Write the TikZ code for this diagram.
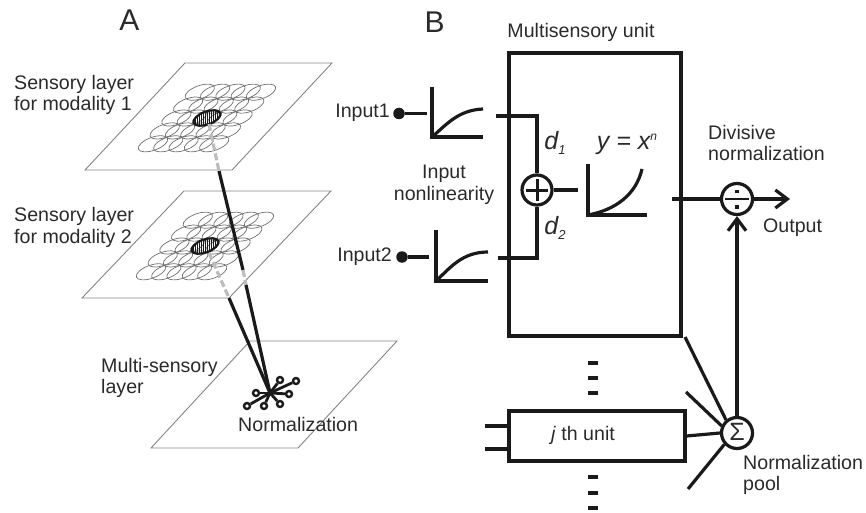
\documentclass[tikz,border=0pt]{standalone}
\usepackage{fontspec}
\setmainfont{Liberation Sans}
\usetikzlibrary{arrows.meta}
\definecolor{ink}{HTML}{1A1A1A}
\definecolor{txt}{HTML}{2A2A2A}
\definecolor{fine}{HTML}{6E6E6E}
\definecolor{pale}{HTML}{BDBDBD}
\tikzset{
  x=1pt,y=-1pt,
  lab/.style={inner sep=0pt,text=txt,font=\fontsize{19.6}{21.8}\selectfont,align=left},
  panel/.style={inner sep=0pt,text=txt,font=\fontsize{30}{32}\selectfont},
  plane/.style={draw=fine!85,line width=0.9pt},
  rf/.style={draw=fine,line width=0.7pt},
  rfdark/.style={draw=ink,line width=2.2pt},
  fiber/.style={draw=ink,line width=3.2pt},
  fiberdash/.style={draw=pale,line width=3.2pt,dash pattern=on 7pt off 3pt},
  wire/.style={draw=ink,line width=3.2pt},
  axis/.style={draw=ink,line width=3.2pt},
  box/.style={draw=ink,line width=3.4pt,inner sep=0pt,fill=none},
  op/.style={circle,draw=ink,line width=3.2pt,inner sep=0pt,minimum size=30pt},
  term/.style={circle,fill=ink,inner sep=0pt,minimum size=11.5pt},
  syn/.style={circle,draw=ink,line width=2.4pt,inner sep=0pt,minimum size=6pt,fill=white},
  tick/.style={draw=ink,line width=3.2pt},
  chev/.style={-{Straight Barb[length=12pt,width=18pt,line width=3.2pt]}},
}
\newcommand{\rfgrid}[2]{%
  \foreach \r in {0,...,4}{\foreach \c in {0,...,4}{%
    \draw[rf,rotate around={20:(#1+15.3*\c+11.7*\r-54,#2-12.9*\r+25.8)}]
      (#1+15.3*\c+11.7*\r-54,#2-12.9*\r+25.8) ellipse (15.5 and 6.5);
  }}%
  \begin{scope}
    \clip[rotate around={20:(#1,#2)}] (#1,#2) ellipse (14 and 6.5);
    \foreach \k in {-14,-12,...,14}{\draw[draw=ink,line width=0.5pt] (#1+\k,#2-8) -- (#1+\k,#2+8);}
  \end{scope}
  \draw[rfdark,rotate around={20:(#1,#2)}] (#1,#2) ellipse (14 and 6.5);
}
\begin{document}
\begin{tikzpicture}
\useasboundingbox (0,0) rectangle (866,513);
% panel A
\draw[plane] (185,63) -- (332,63) -- (232,170) -- (85,170) -- cycle;
\draw[plane] (184,191) -- (331,191) -- (229,298) -- (82,298) -- cycle;
\draw[plane] (250,341) -- (397,341) -- (298,448) -- (151,448) -- cycle;
\rfgrid{207}{118}
\rfgrid{205}{246}
\coordinate (c1) at (209,124);
\coordinate (e1) at (219,171);
\coordinate (m1) at (243,270);
\coordinate (m2) at (246,285);
\coordinate (c2) at (209,253);
\coordinate (e2) at (229,298);
\node[inner sep=0pt,minimum size=1pt] (hub) at (270,393) {};
\draw[fiberdash] (c1) -- (e1);
\draw[fiber] (e1) -- (m1);
\draw[fiberdash] (m1) -- (m2);
\draw[fiber] (m2) -- (hub.center);
\draw[fiberdash] (c2) -- (e2);
\draw[fiber] (e2) -- (hub.center);
\node[syn] (s1) at (247,406) {};
\node[syn] (s2) at (256,393) {};
\node[syn] (s3) at (264,406) {};
\node[syn] (s4) at (280,404) {};
\node[syn] (s5) at (289,394) {};
\node[syn] (s6) at (280,380) {};
\node[syn] (s7) at (296,381) {};
\foreach \s in {s1,s2,s3,s4,s5,s6,s7}{\draw[draw=ink,line width=2.8pt] (hub.center) -- (\s);}
\node[panel] (pa) at (129.5,20) {A};
\node[panel] (pb) at (434.5,22.5) {B};
\node[lab,anchor=west] (l1) at (14,95) {Sensory layer\\for modality 1};
\node[lab,anchor=west] (l2) at (14,227.5) {Sensory layer\\for modality 2};
\node[lab,anchor=west] (l3) at (101,378) {Multi-sensory\\layer};
\node[lab,anchor=west] (l4) at (238,424) {Normalization};
% panel B
\node[box,minimum width=172pt,minimum height=283pt] (unit) at (595,194.5) {};
\node[box,minimum width=176pt,minimum height=50pt] (junit) at (597,436) {};
\node[lab] (t1) at (581,32) {Multisensory unit};
\node[lab] (t2) at (583,435) {\textit{j} th unit};
\node[lab,anchor=east] (in1t) at (390,113) {Input1};
\node[lab,anchor=east] (in2t) at (392,257) {Input2};
\node[lab,align=center] (nlt) at (444,184.5) {Input\\nonlinearity};
\node[lab,anchor=west] (divt) at (708,143) {Divisive\\normalization};
\node[lab,anchor=west] (outt) at (763,228) {Output};
\node[lab,anchor=west] (poolt) at (743,475) {Normalization\\pool};
\node[term] (in1) at (399,113.5) {};
\node[term] (in2) at (402,257) {};
% nonlinearity 1
\coordinate (a1) at (427,113.5);
\draw[wire] (in1) -- (a1);
\draw[axis] (432,87) -- (432,137) -- (483,137);
\draw[axis] (432,137) .. controls (446,125) and (458,110) .. (483,109);
% nonlinearity 2
\coordinate (a2) at (429,257);
\draw[wire] (in2) -- (a2);
\draw[axis] (436,230) -- (436,281) -- (488,281);
\draw[axis] (436,281) .. controls (450,268) and (462,252) .. (488,252);
% summation
\node[op] (sum) at (537,190) {};
\draw[draw=ink,line width=3pt] (sum.center) ++(-11,0) -- ++(22,0);
\draw[draw=ink,line width=3pt] (sum.center) ++(0,-11) -- ++(0,22);
\coordinate (o1) at (496,116);
\coordinate (o2) at (498,258);
\draw[wire] (o1) -- (sum.north |- o1) -- (sum.north);
\draw[wire] (o2) -- (sum.south |- o2) -- (sum.south);
\coordinate (pw) at (578,190);
\draw[wire] (sum.east) -- (pw);
\node[inner sep=0pt,text=txt,font=\fontsize{25}{27}\selectfont\itshape] (d1) at (555,143) {d\raisebox{-5pt}{\fontsize{13}{13}\selectfont 1}};
\node[inner sep=0pt,text=txt,font=\fontsize{25}{27}\selectfont\itshape] (d2) at (555,228) {d\raisebox{-5pt}{\fontsize{13}{13}\selectfont 2}};
\node[inner sep=0pt,text=txt,font=\fontsize{25}{27}\selectfont\itshape] (pwt) at (627,144) {y = x\raisebox{9pt}{\fontsize{12}{12}\selectfont n}};
\draw[axis] (588,164) -- (588,215) -- (647,215);
\draw[axis] (588,215) .. controls (615,210) and (636,195) .. (642,169);
% divisive
\node[op,minimum size=31pt] (div) at (737,199) {};
\draw[draw=ink,line width=2.2pt] (div.center) ++(-12,0) -- ++(24,0);
\fill[ink] (div.center) ++(-1.8,-9.5) rectangle ++(3.6,3.6);
\fill[ink] (div.center) ++(-1.8,5.9) rectangle ++(3.6,3.6);
\coordinate (boxout) at (672,199);
\coordinate (outp) at (790,199);
\draw[wire] (boxout) -- (div.west);
\draw[wire,chev] (div.east) -- (outp);
% pool
\node[op,minimum size=31pt] (pool) at (737,433) {};
\node[inner sep=0pt,text=txt,font=\fontsize{25}{27}\selectfont] (sig) at (737,432) {Σ};
\draw[wire,chev] (pool.north) -- (div.south);
\coordinate (p1) at (685,337);
\coordinate (p2) at (686,392);
\coordinate (p4) at (688,489);
\draw[wire] (p1) -- (pool.130);
\draw[wire] (p2) -- (pool.155);
\draw[wire] (junit.east) -- (pool.west);
\draw[wire] (p4) -- (pool.222);
\coordinate (j1) at (485,426);
\coordinate (j2) at (485,449);
\draw[draw=ink,line width=3.8pt] (j1) -- (junit.west |- j1);
\draw[draw=ink,line width=3.8pt] (j2) -- (junit.west |- j2);
\foreach \y in {363,378,393,477,493,508}{\draw[tick] (588,\y) -- (598,\y);}
\end{tikzpicture}
\end{document}
